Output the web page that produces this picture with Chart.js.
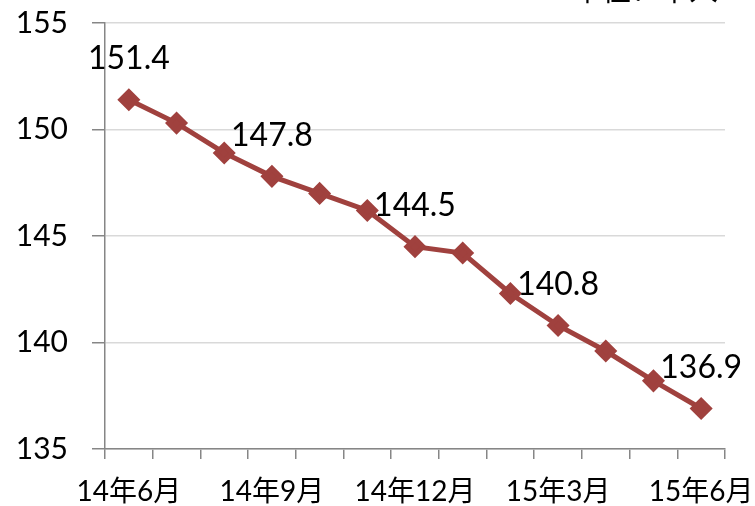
<!DOCTYPE html>
<html><head><meta charset="utf-8">
<script src="https://cdn.jsdelivr.net/npm/chart.js@4/dist/chart.umd.min.js"></script>
<style>html,body{margin:0;padding:0;background:#fff}#wrap{width:755px;height:506px}</style>
</head><body><div id="wrap"><canvas id="c" width="755" height="506"></canvas></div>
<script>
const categories = ["14年6月","14年7月","14年8月","14年9月","14年10月","14年11月","14年12月","15年1月","15年2月","15年3月","15年4月","15年5月","15年6月"];
const values = [151.4,150.3,148.9,147.8,147.0,146.2,144.5,144.2,142.3,140.8,139.6,138.2,136.9];
const labeledIndices = [0,3,6,9,12];
const unitText = "单位：千人";
const yTicks = [135,140,145,150,155];

const FONT = "Lato, 'Noto Sans CJK SC', sans-serif";

const labelPlugin = {
  id: 'pointLabels',
  afterDatasetsDraw(chart) {
    const ctx = chart.ctx;
    const meta = chart.getDatasetMeta(0);
    ctx.save();
    ctx.font = "32px " + FONT;
    ctx.fillStyle = "#000";
    ctx.textAlign = "center";
    ctx.textBaseline = "middle";
    labeledIndices.forEach(i => {
      const p = meta.data[i];
      ctx.fillText(values[i].toFixed(1), p.x, p.y - 41);
    });
    ctx.font = "29px " + FONT;
    ctx.textAlign = "right";
    ctx.textBaseline = "alphabetic";
    ctx.fillText(unitText, 718, 1);
    ctx.restore();
  }
};

new Chart(document.getElementById('c'), {
  type: 'line',
  data: {
    labels: categories,
    datasets: [{
      data: values,
      borderColor: '#A0413E',
      backgroundColor: '#A0413E',
      borderWidth: 5,
      pointStyle: 'rectRot',
      pointRadius: 8,
      pointHoverRadius: 8,
      tension: 0,
      fill: false
    }]
  },
  options: {
    responsive: false,
    animation: false,
    devicePixelRatio: 1,
    layout: { padding: { left: 0, right: 30, top: 23, bottom: 0 } },
    plugins: { legend: { display: false }, tooltip: { enabled: false } },
    scales: {
      x: {
        offset: true,
        afterFit(s) { s.height = 57; s.paddingLeft = 0; s.paddingRight = 0; },
        grid: { display: true, drawOnChartArea: false, drawTicks: true, tickLength: 10, color: '#868686', lineWidth: 1.5, offset: true },
        border: { color: '#868686', width: 1.5 },
        ticks: {
          autoSkip: false, maxRotation: 0, minRotation: 0,
          color: '#000', font: { family: FONT, size: 28 }, padding: 16,
          callback(v, i) { return i % 3 === 0 ? categories[i] : ''; }
        }
      },
      y: {
        min: 135, max: 155,
        afterFit(s) { s.width = 105; s.paddingTop = 0; s.paddingBottom = 0; },
        afterBuildTicks(s) { s.ticks = yTicks.map(v => ({ value: v })); },
        grid: { color: '#d9d9d9', lineWidth: 1.5, tickLength: 13, tickColor: '#868686' },
        border: { color: '#868686', width: 1.5 },
        ticks: { color: '#000', font: { family: FONT, size: 30 }, padding: 24 }
      }
    }
  },
  plugins: [labelPlugin]
});
</script></body></html>
